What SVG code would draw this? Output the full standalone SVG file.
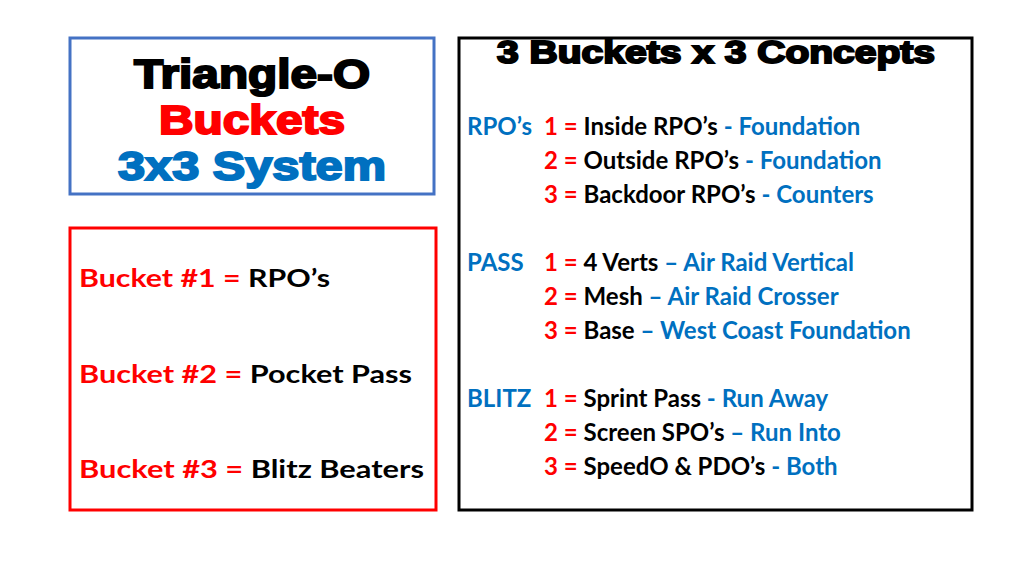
<svg xmlns="http://www.w3.org/2000/svg" width="1024" height="576" viewBox="0 0 1024 576">
<style>
.h{font-family:"Liberation Sans",Arial,sans-serif;font-weight:bold;stroke-width:2;text-anchor:middle}
.t{font-family:Lato,"Open Sans",sans-serif;font-size:24px;font-weight:bold;fill:#000}
.r{fill:#FF0000}.b{fill:#0070C0}
</style>
<rect width="1024" height="576" fill="#fff"/>
<g id="title">
<rect x="70" y="38" width="364" height="156" fill="#fff" stroke="#4472C4" stroke-width="3"/>
<text class="h" x="252" y="88" font-size="40" fill="#000" stroke="#000" textLength="236" lengthAdjust="spacingAndGlyphs">Triangle-O</text>
<text class="h r" x="252" y="134" font-size="40" stroke="#FF0000" textLength="186" lengthAdjust="spacingAndGlyphs">Buckets</text>
<text class="h b" x="252" y="180" font-size="40" stroke="#0070C0" textLength="268" lengthAdjust="spacingAndGlyphs">3x3 System</text>
</g>
<g id="buckets">
<rect x="70" y="228" width="366" height="282" fill="#fff" stroke="#FF0000" stroke-width="3"/>
<text class="t" x="79" y="287" font-size="28" textLength="251" lengthAdjust="spacingAndGlyphs"><tspan class="r">Bucket #1 = </tspan>RPO’s</text>
<text class="t" x="79" y="383" font-size="28" textLength="333" lengthAdjust="spacingAndGlyphs"><tspan class="r">Bucket #2 = </tspan>Pocket Pass</text>
<text class="t" x="79" y="478" font-size="28" textLength="345" lengthAdjust="spacingAndGlyphs"><tspan class="r">Bucket #3 = </tspan>Blitz Beaters</text>
</g>
<g id="concepts">
<rect x="459" y="38" width="513" height="472" fill="#fff" stroke="#000" stroke-width="3"/>
<text class="h" x="716" y="63" font-size="31" fill="#000" stroke="#000" stroke-width="1.5" textLength="438" lengthAdjust="spacingAndGlyphs">3 Buckets x 3 Concepts</text>
<text class="t b" x="467" y="135">RPO’s</text>
<text class="t" x="544" y="135"><tspan class="r">1 = </tspan>Inside RPO’s <tspan class="b">- Foundation</tspan></text>
<text class="t" x="544" y="169"><tspan class="r">2 = </tspan>Outside RPO’s <tspan class="b">- Foundation</tspan></text>
<text class="t" x="544" y="203"><tspan class="r">3 = </tspan>Backdoor RPO’s <tspan class="b">- Counters</tspan></text>
<text class="t b" x="467" y="271">PASS</text>
<text class="t" x="544" y="271"><tspan class="r">1 = </tspan>4 Verts <tspan class="b">– Air Raid Vertical</tspan></text>
<text class="t" x="544" y="305"><tspan class="r">2 = </tspan>Mesh <tspan class="b">– Air Raid Crosser</tspan></text>
<text class="t" x="544" y="339"><tspan class="r">3 = </tspan>Base <tspan class="b">– West Coast Foundation</tspan></text>
<text class="t b" x="467" y="407">BLITZ</text>
<text class="t" x="544" y="407"><tspan class="r">1 = </tspan>Sprint Pass <tspan class="b">- Run Away</tspan></text>
<text class="t" x="544" y="441"><tspan class="r">2 = </tspan>Screen SPO’s <tspan class="b">– Run Into</tspan></text>
<text class="t" x="544" y="475"><tspan class="r">3 = </tspan>SpeedO &amp; PDO’s <tspan class="b">- Both</tspan></text>
</g>
</svg>
